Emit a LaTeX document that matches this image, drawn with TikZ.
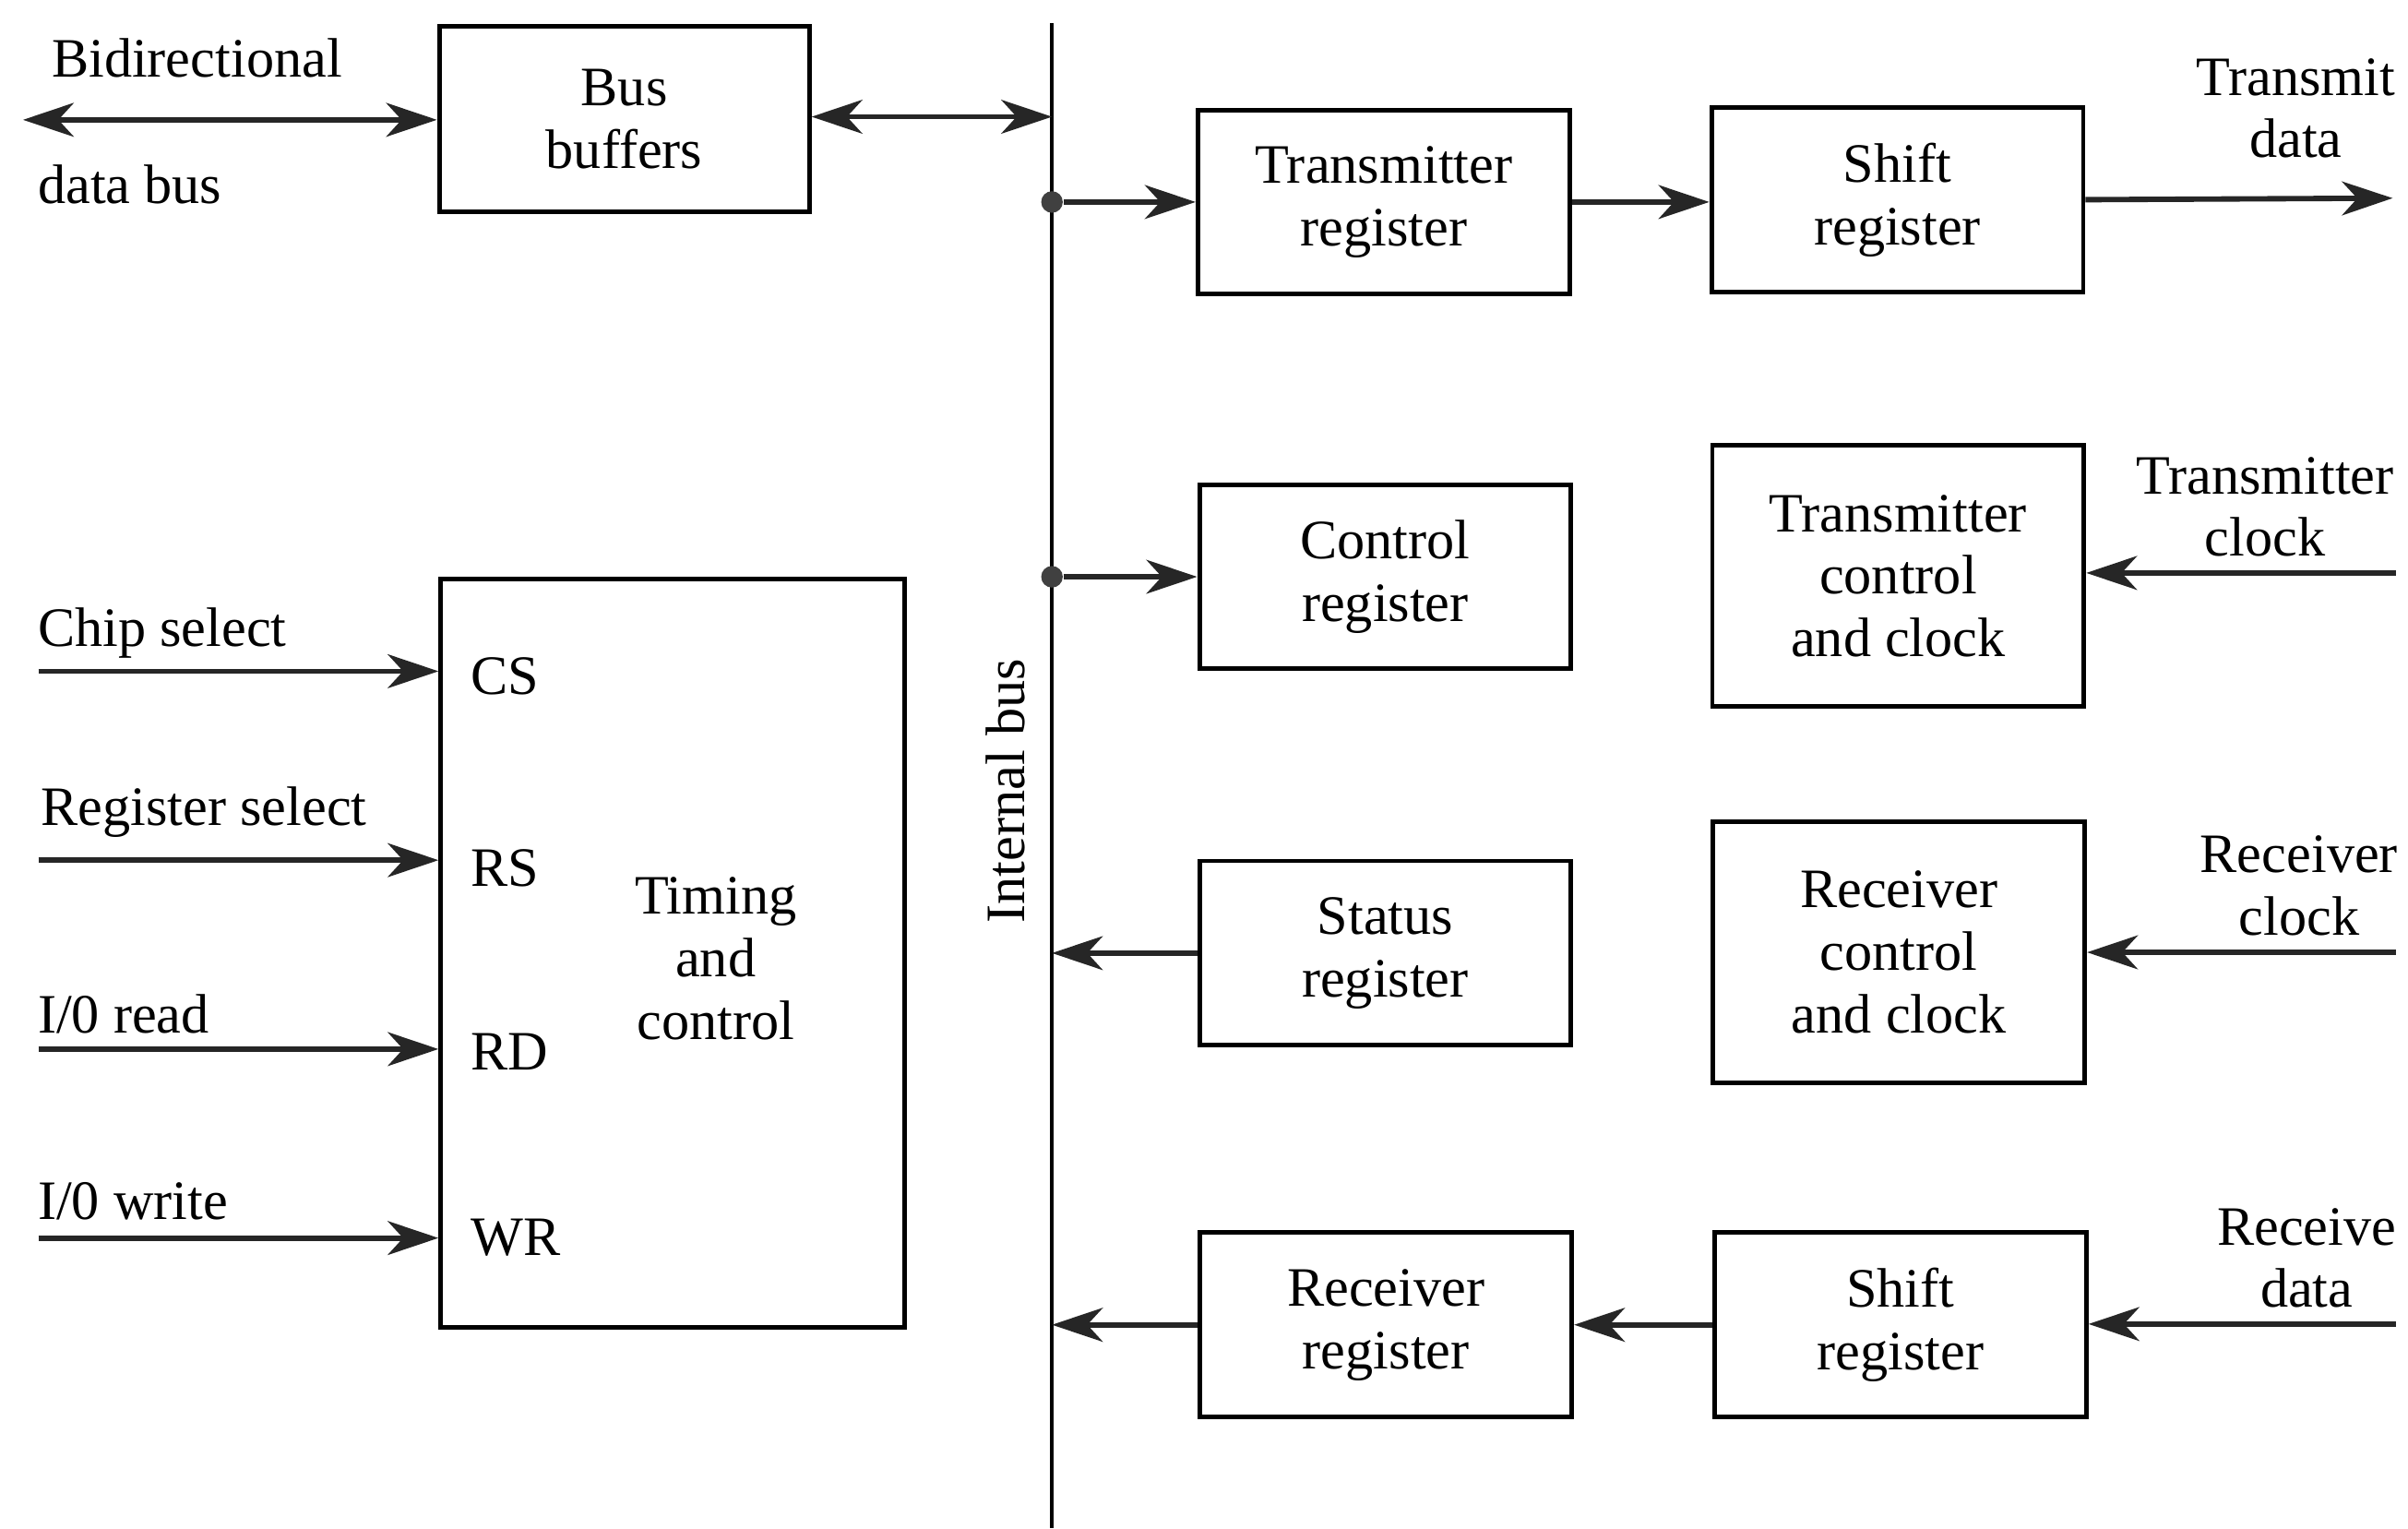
\documentclass[tikz,border=0pt]{standalone}
\usepackage{fontspec}
\setmainfont{Liberation Serif}
\usepackage{tikz}
\usetikzlibrary{arrows.meta,calc,positioning}

\begin{document}
\begin{tikzpicture}[
font=\fontsize{10.3}{11.6}\selectfont,
block/.style={draw=black, line width=0.85pt, minimum width=2.42cm, minimum height=1.20cm, align=center, inner sep=2pt},
tallblock/.style={block, minimum height=1.70cm},
arrow/.style={-{Stealth[length=3.3mm,width=2.2mm,inset=1mm]}, line width=1pt, draw=black!85},
biarrow/.style={{Stealth[length=3.3mm,width=2.2mm,inset=1mm]}-{Stealth[length=3.3mm,width=2.2mm,inset=1mm]}, line width=1pt, draw=black!85},
tap/.style={circle, fill=black!75, inner sep=0pt, minimum size=4pt},
label/.style={inner sep=0pt, align=center}
]
\useasboundingbox (0,0) rectangle (15.68,-9.95);

% internal bus
\coordinate (busTop) at (6.85,-0.15);
\coordinate (busBot) at (6.85,-9.95);
\draw[line width=0.7pt] (busTop) -- (busBot);
\node[label, rotate=90] (buslabel) at (6.55,-5.15) {Internal bus};

% left side
\node[block, minimum width=2.41cm, minimum height=1.21cm] (buffers) at (4.065,-0.775) {Bus\\buffers};
\node[block, minimum width=3.02cm, minimum height=4.87cm] (timing) at (4.38,-6.205) {};
\node[label] (timinglabel) at (4.66,-6.24) {Timing\\and\\control};

\coordinate (extbus) at (0.15,-0.78);
\node[label, anchor=west] (bidir) at (0.33,-0.38) {Bidirectional};
\node[label, anchor=west] (databus) at (0.24,-1.20) {data bus};
\draw[biarrow] (extbus) -- (buffers.west |- extbus);
\draw[biarrow] (buffers.east |- 0,-0.76) -- (busTop |- 0,-0.76);

\coordinate (csin) at (0.25,-4.37);
\coordinate (rsin) at (0.25,-5.60);
\coordinate (rdin) at (0.25,-6.83);
\coordinate (wrin) at (0.25,-8.06);
\node[label, anchor=west] (chipsel) at (0.24,-4.12) {Chip select};
\node[label, anchor=west] (regsel) at (0.26,-5.29) {Register select};
\node[label, anchor=west] (ioread) at (0.24,-6.60) {I/0 read};
\node[label, anchor=west] (iowrite) at (0.24,-7.82) {I/0 write};
\node[label, anchor=west] (cs) at (3.06,-4.40) {CS};
\node[label, anchor=west] (rs) at (3.06,-5.65) {RS};
\node[label, anchor=west] (rd) at (3.06,-6.85) {RD};
\node[label, anchor=west] (wr) at (3.06,-8.06) {WR};
\draw[arrow] (csin) -- (csin -| timing.west);
\draw[arrow] (rsin) -- (rsin -| timing.west);
\draw[arrow] (rdin) -- (rdin -| timing.west);
\draw[arrow] (wrin) -- (wrin -| timing.west);

% registers
\node[block] (txreg) at (9.01,-1.315) {Transmitter\\register};
\node[block] (txshift) at (12.355,-1.30) {Shift\\register};
\node[block] (ctlreg) at (9.02,-3.755) {Control\\register};
\node[tallblock] (txclk) at (12.36,-3.75) {Transmitter\\control\\and clock};
\node[block] (statreg) at (9.02,-6.205) {Status\\register};
\node[tallblock] (rxclk) at (12.365,-6.20) {Receiver\\control\\and clock};
\node[block] (rxreg) at (9.025,-8.625) {Receiver\\register};
\node[block] (rxshift) at (12.375,-8.625) {Shift\\register};

% right side
\coordinate (txout) at (15.58,-1.29);
\coordinate (txclkin) at (15.60,-3.73);
\coordinate (rxclkin) at (15.60,-6.20);
\coordinate (rxin) at (15.60,-8.62);
\node[label] (txdata) at (14.95,-0.705) {Transmit\\data};
\node[label] (txclock) at (14.75,-3.30) {Transmitter\\clock};
\node[label] (rxclock) at (14.97,-5.765) {Receiver\\clock};
\node[label] (rxdata) at (15.02,-8.19) {Receive\\data};

% connectors
\node[tap] (taptx) at (busTop |- txreg.west) {};
\node[tap] (tapctl) at (busTop |- ctlreg.west) {};
\draw[arrow] (taptx) -- (txreg.west);
\draw[arrow] (tapctl) -- (ctlreg.west);
\draw[arrow] (txreg.east) -- (txshift.west |- txreg.east);
\draw[arrow] (txshift.east) -- (txout);
\draw[arrow] (txclkin) -- (txclk.east |- txclkin);
\draw[arrow] (rxclkin) -- (rxclk.east |- rxclkin);
\draw[arrow] (statreg.west) -- (busTop |- statreg.west);
\draw[arrow] (rxin) -- (rxshift.east |- rxin);
\draw[arrow] (rxshift.west) -- (rxreg.east);
\draw[arrow] (rxreg.west) -- (busTop |- rxreg.west);
\end{tikzpicture}
\end{document}
